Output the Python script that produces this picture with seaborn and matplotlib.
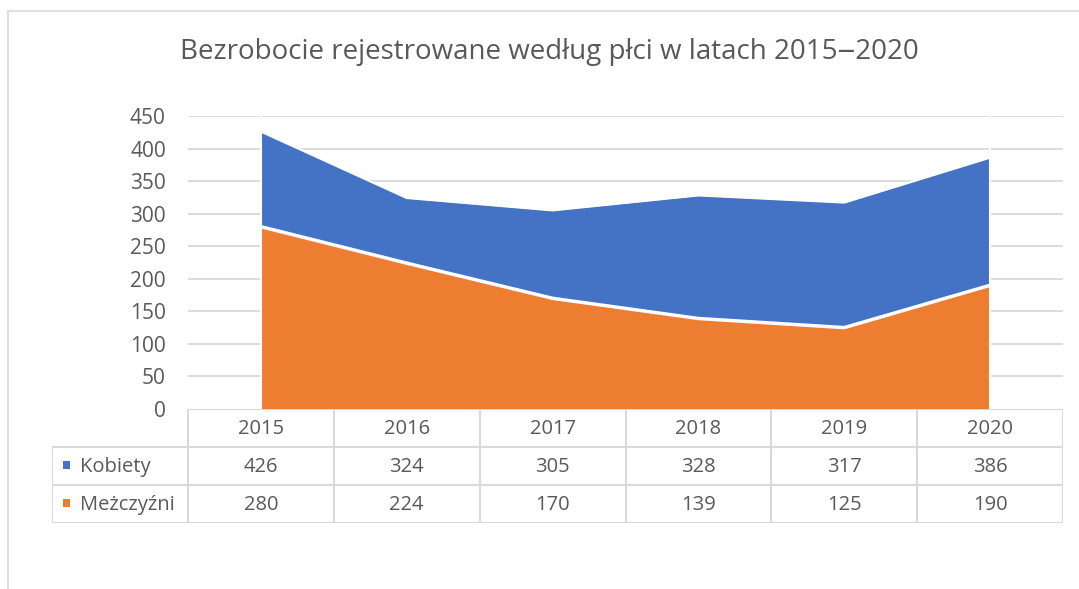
import matplotlib
matplotlib.use("Agg")
import matplotlib.pyplot as plt
from matplotlib.lines import Line2D
from matplotlib.patches import Rectangle
import seaborn as sns
import pandas as pd

years = ["2015", "2016", "2017", "2018", "2019", "2020"]
kobiety = [426, 324, 305, 328, 317, 386]
mezczyzni = [280, 224, 170, 139, 125, 190]
series_names = ["Kobiety", "Meżczyźni"]
title = "Bezrobocie rejestrowane według płci w latach 2015‒2020"

blue = "#4472C4"
orange = "#ED7D31"
grey_txt = "#595959"
grid_col = "#D9D9D9"

sns.set_theme(style="white")
plt.rcParams["font.family"] = ["Open Sans", "DejaVu Sans"]

df = pd.DataFrame({"rok": range(len(years)), "Kobiety": kobiety, "Meżczyźni": mezczyzni})

W, H = 1079, 589
fig = plt.figure(figsize=(W / 100, H / 100), dpi=100)

# plot area
ax = fig.add_axes([188 / W, 1 - 409 / H, (1063 - 188) / W, (409 - 116) / H])
for y in range(50, 451, 50):
    ax.axhline(y, color=grid_col, lw=1.3, zorder=0)

ax.fill_between(df["rok"], 0, df["Kobiety"], color=blue, lw=0, zorder=2)
ax.fill_between(df["rok"], 0, df["Meżczyźni"], color=orange, lw=0, zorder=3)
sns.lineplot(x="rok", y="Kobiety", data=df, ax=ax, color="white", lw=1.5, zorder=4)
sns.lineplot(x="rok", y="Meżczyźni", data=df, ax=ax, color="white", lw=2.5, zorder=4)
for x0 in (0, len(years) - 1):
    ax.axvline(x0, color="white", lw=1.5, zorder=4)

ax.set_xlim(-0.5, len(years) - 0.5)
ax.set_ylim(0, 450)
ax.set_yticks(range(0, 451, 50))
ax.set_xticks([])
ax.set_xlabel("")
ax.set_ylabel("")
ax.tick_params(axis="y", labelsize=15, colors=grey_txt, length=0, pad=16)
sns.despine(ax=ax, left=True, bottom=True)

# data table under the plot
n = len(years)
unit = (1063 - 188) / n
xleft = -0.5 - (188 - 52) / unit
tab = fig.add_axes([52 / W, 1 - 523 / H, (1063 - 52) / W, (523 - 409) / H])
tab.set_xlim(xleft, n - 0.5)
tab.set_ylim(3, 0)
tab.axis("off")
lk = dict(color=grid_col, lw=1.5, solid_capstyle="projecting")
tab.plot([-0.5, n - 0.5], [0, 0], **lk)
for r in (1, 2, 3):
    tab.plot([xleft, n - 0.5], [r, r], **lk)
for i in range(n + 1):
    tab.plot([i - 0.5, i - 0.5], [0, 3], **lk)
tab.plot([xleft, xleft], [1, 3], **lk)

fs = 14.5
for i, yr in enumerate(years):
    tab.text(i, 0.52, yr, ha="center", va="center", fontsize=fs, color=grey_txt)
    tab.text(i, 1.52, str(kobiety[i]), ha="center", va="center", fontsize=fs, color=grey_txt)
    tab.text(i, 2.52, str(mezczyzni[i]), ha="center", va="center", fontsize=fs, color=grey_txt)

for r, (name, col) in enumerate(zip(series_names, [blue, orange]), start=1):
    tab.add_patch(Rectangle((xleft + 0.075, r + 0.38), 0.048, 0.2, color=col, lw=0))
    tab.text(xleft + 0.19, r + 0.52, name, ha="left", va="center", fontsize=fs, color=grey_txt)

fig.text(549 / W, 1 - 52 / H, title, ha="center", va="center", fontsize=20, color=grey_txt)

# chart frame (partly visible)
fig.add_artist(Line2D([8 / W, 1], [1 - 11 / H, 1 - 11 / H], color=grid_col, lw=1.2, transform=fig.transFigure))
fig.add_artist(Line2D([8 / W, 8 / W], [0, 1 - 11 / H], color=grid_col, lw=1.2, transform=fig.transFigure))

plt.savefig("out.png", dpi=100)
